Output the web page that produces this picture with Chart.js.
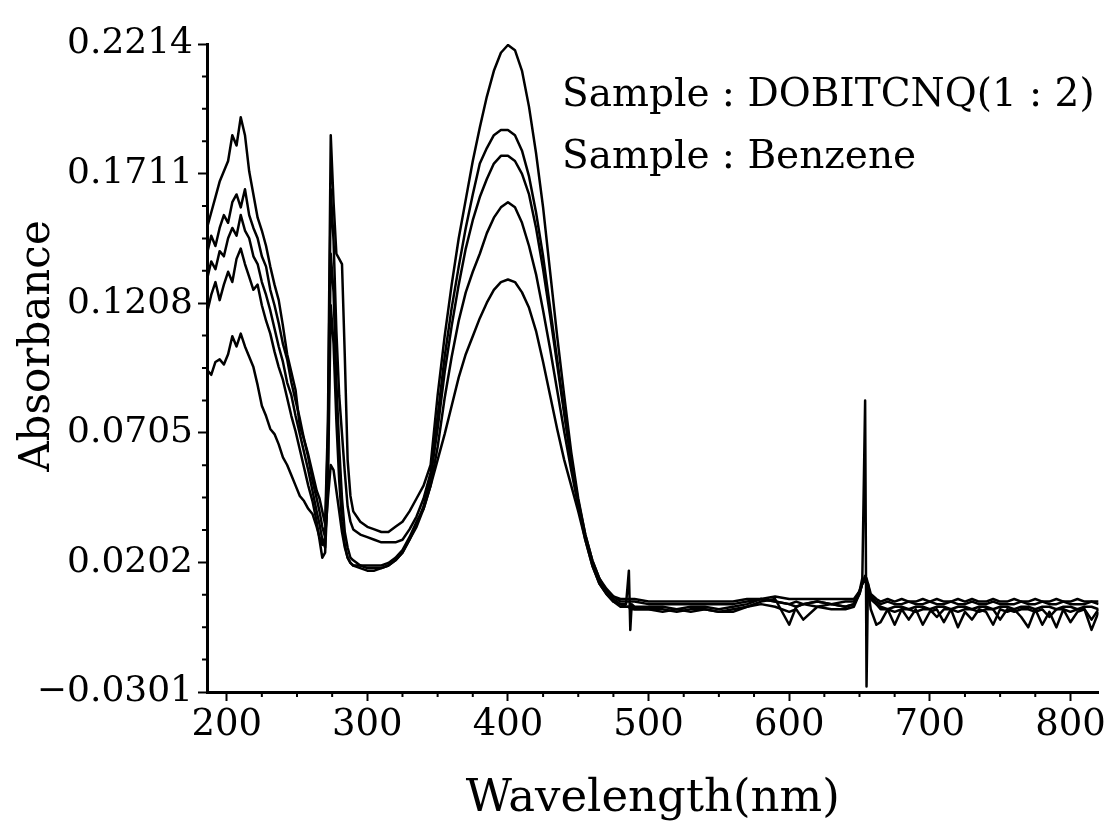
<!DOCTYPE html>
<html lang="en">
<head>
<meta charset="UTF-8">
<title>Absorbance spectrum</title>
<script src="https://cdn.jsdelivr.net/npm/chart.js"></script>
<style>
  html, body { margin: 0; padding: 0; background: #fff; }
  #wrap { width: 1108px; height: 834px; }
</style>
</head>
<body>
<div id="wrap"><canvas id="spectrum"></canvas></div>
<script>
// wavelength grid (nm), shared by every trace
const wavelengths = [
  186,189,192,195,198,201,204,207,210,213,216,219,222,225,228,231,234,237,240,243,246,249,252,255,258,261,264,
  266,268,270,272,274,276,278,280,282,284,286,288,290,
  295,300,305,310,315,320,325,330,335,340,345,350,355,360,365,370,375,380,385,390,395,400,405,410,415,420,425,430,435,440,445,450,455,460,465,470,475,480,
  484,486,487,488,
  490,500,510,520,530,540,550,560,570,580,590,600,605,610,620,630,640,
  646,650,652,654,655,656,658,662,
  665,670,675,680,685,690,695,700,705,710,715,720,725,730,735,740,745,750,755,760,765,770,775,780,785,790,795,800,805,810,815,820
];

// absorbance
const traceA = [
  0.150,0.156,0.162,0.168,0.172,0.176,0.186,0.182,0.193,0.186,0.172,0.163,0.154,0.149,0.143,0.135,0.128,0.122,0.112,0.101,0.094,0.087,0.073,0.068,0.062,0.055,0.048,
  0.045,0.040,0.035,0.075,0.186,0.160,0.140,0.138,0.136,0.100,0.060,0.046,0.040,
  0.036,0.034,0.033,0.032,0.032,0.034,0.036,0.040,0.045,0.050,0.058,0.085,0.108,0.128,0.146,0.161,0.176,0.189,0.201,0.211,0.218,0.221,0.219,0.211,0.197,0.179,0.158,0.133,0.108,0.085,0.063,0.045,0.031,0.021,0.014,0.010,0.007,0.006,
  0.006,0.006,0.006,0.006,
  0.006,0.005,0.005,0.005,0.005,0.005,0.005,0.005,0.006,0.006,0.007,0.006,0.006,0.006,0.006,0.006,0.006,
  0.006,0.009,0.012,0.015,0.014,0.012,0.008,0.006,
  0.005,0.006,0.005,0.006,0.005,0.005,0.006,0.005,0.006,0.005,0.005,0.006,0.005,0.006,0.005,0.005,0.006,0.005,0.005,0.006,0.005,0.005,0.006,0.005,0.005,0.006,0.005,0.005,0.006,0.005,0.005,0.005
];
const traceB = [
  0.140,0.147,0.143,0.150,0.155,0.152,0.160,0.163,0.158,0.165,0.155,0.150,0.146,0.139,0.135,0.126,0.120,0.113,0.105,0.099,0.090,0.083,0.076,0.068,0.061,0.052,0.045,
  0.040,0.034,0.030,0.070,0.165,0.145,0.110,0.085,0.070,0.055,0.042,0.036,0.033,
  0.031,0.030,0.029,0.028,0.028,0.028,0.029,0.033,0.038,0.045,0.055,0.077,0.100,0.119,0.135,0.150,0.163,0.175,0.181,0.186,0.188,0.188,0.186,0.180,0.170,0.156,0.139,0.119,0.099,0.079,0.060,0.044,0.031,0.021,0.014,0.009,0.007,0.005,
  0.005,0.005,0.005,0.005,
  0.005,0.004,0.004,0.004,0.004,0.004,0.004,0.004,0.005,0.006,0.005,0.004,0.005,0.004,0.005,0.004,0.005,
  0.005,0.009,0.012,0.014,0.013,0.011,0.007,0.005,
  0.004,0.005,0.004,0.004,0.005,0.004,0.004,0.005,0.004,0.004,0.005,0.004,0.004,0.005,0.004,0.004,0.005,0.004,0.004,0.004,0.005,0.004,0.004,0.005,0.004,0.004,0.005,0.004,0.004,0.004,0.005,0.004
];
const traceC = [
  0.130,0.137,0.134,0.141,0.139,0.146,0.150,0.147,0.155,0.149,0.146,0.139,0.136,0.129,0.124,0.118,0.111,0.104,0.098,0.090,0.085,0.077,0.070,0.063,0.056,0.048,0.040,
  0.035,0.029,0.026,0.060,0.140,0.125,0.090,0.065,0.045,0.032,0.026,0.022,0.021,
  0.019,0.018,0.018,0.018,0.019,0.021,0.024,0.029,0.035,0.042,0.053,0.072,0.094,0.112,0.128,0.142,0.153,0.162,0.169,0.175,0.178,0.178,0.176,0.171,0.163,0.150,0.134,0.116,0.097,0.078,0.059,0.043,0.030,0.020,0.013,0.009,0.006,0.004,
  0.004,0.017,-0.006,0.004,
  0.003,0.003,0.003,0.002,0.003,0.003,0.002,0.003,0.004,0.006,0.005,0.004,0.003,0.004,0.003,0.004,0.003,
  0.004,0.008,0.012,0.014,0.013,0.010,0.006,0.004,
  0.003,0.002,0.003,0.003,0.002,0.003,0.003,0.002,0.003,0.003,0.002,0.003,0.003,0.002,0.003,0.003,0.002,0.003,0.003,0.002,0.003,0.003,0.002,0.003,0.003,0.002,0.003,0.003,0.002,0.003,0.003,0.002
];
const traceD = [
  0.117,0.124,0.129,0.122,0.128,0.133,0.129,0.138,0.142,0.136,0.131,0.126,0.128,0.120,0.114,0.109,0.102,0.096,0.091,0.084,0.077,0.071,0.064,0.057,0.050,0.044,0.036,
  0.029,0.022,0.024,0.050,0.120,0.105,0.075,0.052,0.036,0.027,0.022,0.020,0.019,
  0.018,0.017,0.017,0.018,0.019,0.021,0.024,0.029,0.034,0.041,0.050,0.065,0.084,0.100,0.114,0.125,0.133,0.140,0.148,0.154,0.158,0.160,0.158,0.152,0.143,0.132,0.118,0.103,0.087,0.071,0.056,0.042,0.029,0.019,0.012,0.008,0.005,0.004,
  0.003,0.003,0.003,0.003,
  0.002,0.002,0.001,0.002,0.001,0.002,0.001,0.001,0.003,0.005,0.006,-0.004,0.003,0.004,0.005,0.004,0.003,
  0.004,0.009,0.014,0.083,-0.028,0.012,0.006,0.004,
  0.002,0.002,0.001,0.002,0.002,0.001,0.002,0.002,-0.001,0.002,0.002,0.001,0.002,0.002,0.001,0.002,0.002,-0.002,0.002,0.001,0.002,0.002,0.001,0.002,-0.001,0.002,0.002,0.001,0.002,0.002,-0.002,0.002
];
const traceE = [
  0.095,0.093,0.098,0.099,0.097,0.101,0.108,0.104,0.109,0.104,0.100,0.096,0.089,0.081,0.077,0.072,0.070,0.066,0.061,0.058,0.054,0.050,0.046,0.044,0.041,0.039,0.034,
  0.030,0.027,0.030,0.045,0.058,0.056,0.048,0.040,0.032,0.026,0.022,0.020,0.019,
  0.019,0.019,0.019,0.019,0.020,0.022,0.025,0.030,0.036,0.041,0.050,0.060,0.070,0.081,0.092,0.101,0.108,0.115,0.121,0.126,0.129,0.130,0.129,0.125,0.119,0.110,0.098,0.085,0.072,0.060,0.050,0.040,0.029,0.019,0.012,0.008,0.005,0.003,
  0.003,0.003,0.002,0.002,
  0.002,0.002,0.002,0.001,0.002,0.002,0.001,0.002,0.003,0.004,0.003,0.001,0.002,-0.002,0.003,0.002,0.002,
  0.003,0.008,0.012,0.013,0.012,0.010,0.002,-0.004,
  -0.003,0.002,-0.004,0.002,-0.002,0.002,-0.004,0.001,0.002,-0.003,0.002,-0.005,0.001,-0.002,0.002,0.001,-0.004,0.002,0.001,0.002,-0.001,-0.005,0.002,-0.004,0.001,-0.005,0.002,-0.003,0.001,0.002,-0.006,0.001
];

const xTicks = [200, 300, 400, 500, 600, 700, 800];
const yTicks = [-0.0301, 0.0202, 0.0705, 0.1208, 0.1711, 0.2214];
const noteLines = ['Sample : DOBITCNQ(1 : 2)', 'Sample : Benzene'];
const yTitle = 'Absorbance';

const FONT = '"DejaVu Serif", "Liberation Serif", serif';

function toPoints(vals) {
    return wavelengths.map((w, i) => ({ x: w, y: vals[i] }));
}

// small ticks between the labelled ones
const minorTicks = {
    id: 'minorTicks',
    afterDraw(chart) {
        const ctx = chart.ctx;
        const xs = chart.scales.x, ys = chart.scales.y;
        const area = chart.chartArea;
        ctx.save();
        ctx.strokeStyle = '#000';
        ctx.lineWidth = 2;
        ctx.beginPath();
        const yStep = (yTicks[1] - yTicks[0]) / 4;
        for (let k = 1; k < 20; k++) {
            if (k % 4 === 0) continue;
            const py = ys.getPixelForValue(yTicks[0] + k * yStep);
            ctx.moveTo(area.left - 5, py);
            ctx.lineTo(area.left, py);
        }
        for (let w = 225; w < 820; w += 25) {
            if (w % 100 === 0) continue;
            const px = xs.getPixelForValue(w);
            ctx.moveTo(px, area.bottom);
            ctx.lineTo(px, area.bottom + 5);
        }
        ctx.stroke();
        ctx.restore();
    }
};

// sample notes and the y title (placed a bit above the axis middle, as in the source)
const notes = {
    id: 'notes',
    afterDraw(chart) {
        const ctx = chart.ctx;
        ctx.save();
        ctx.fillStyle = '#000';
        ctx.font = '39px ' + FONT;
        ctx.textBaseline = 'middle';
        ctx.textAlign = 'left';
        ctx.fillText(noteLines[0], 562, 96);
        ctx.fillText(noteLines[1], 562, 158);
        ctx.translate(38, 346);
        ctx.rotate(-Math.PI / 2);
        ctx.textAlign = 'center';
        ctx.font = '42px ' + FONT;
        ctx.fillText(yTitle, 0, 0);
        ctx.restore();
    }
};

const traces = [traceA, traceB, traceC, traceD, traceE];

new Chart(document.getElementById('spectrum'), {
    type: 'line',
    data: {
        datasets: traces.map(t => ({
            data: toPoints(t),
            borderColor: '#000',
            borderWidth: 2.5,
            pointRadius: 0,
            tension: 0,
            fill: false,
            borderJoinStyle: 'round'
        }))
    },
    options: {
        responsive: true,
        maintainAspectRatio: false,
        animation: false,
        layout: { padding: { top: 44, right: 8, left: 0, bottom: 0 } },
        plugins: { legend: { display: false }, tooltip: { enabled: false } },
        scales: {
            x: {
                type: 'linear',
                min: 186,
                max: 820,
                afterBuildTicks: s => { s.ticks = xTicks.map(v => ({ value: v })); },
                afterFit: s => { s.height = 142; },
                grid: { drawOnChartArea: false, drawTicks: true, tickLength: 9, tickWidth: 2, tickColor: '#000' },
                border: { display: true, color: '#000', width: 3 },
                ticks: { color: '#000', padding: 2, maxRotation: 0, font: { family: FONT, size: 37 } },
                title: {
                    display: true, text: 'Wavelength(nm)', color: '#000',
                    font: { family: FONT, size: 45 }, padding: { top: 0, bottom: 8 }
                }
            },
            y: {
                min: -0.0301,
                max: 0.2214,
                afterBuildTicks: s => { s.ticks = yTicks.map(v => ({ value: v })); },
                afterFit: s => { s.width = 207; },
                grid: { drawOnChartArea: false, drawTicks: true, tickLength: 9, tickWidth: 2, tickColor: '#000' },
                border: { display: true, color: '#000', width: 3 },
                ticks: {
                    color: '#000', padding: 5, font: { family: FONT, size: 36 },
                    callback: v => (v < 0 ? '\u2212' : '') + Math.abs(v).toFixed(4)
                },
                title: { display: false }
            }
        }
    },
    plugins: [minorTicks, notes]
});
</script>
</body>
</html>
